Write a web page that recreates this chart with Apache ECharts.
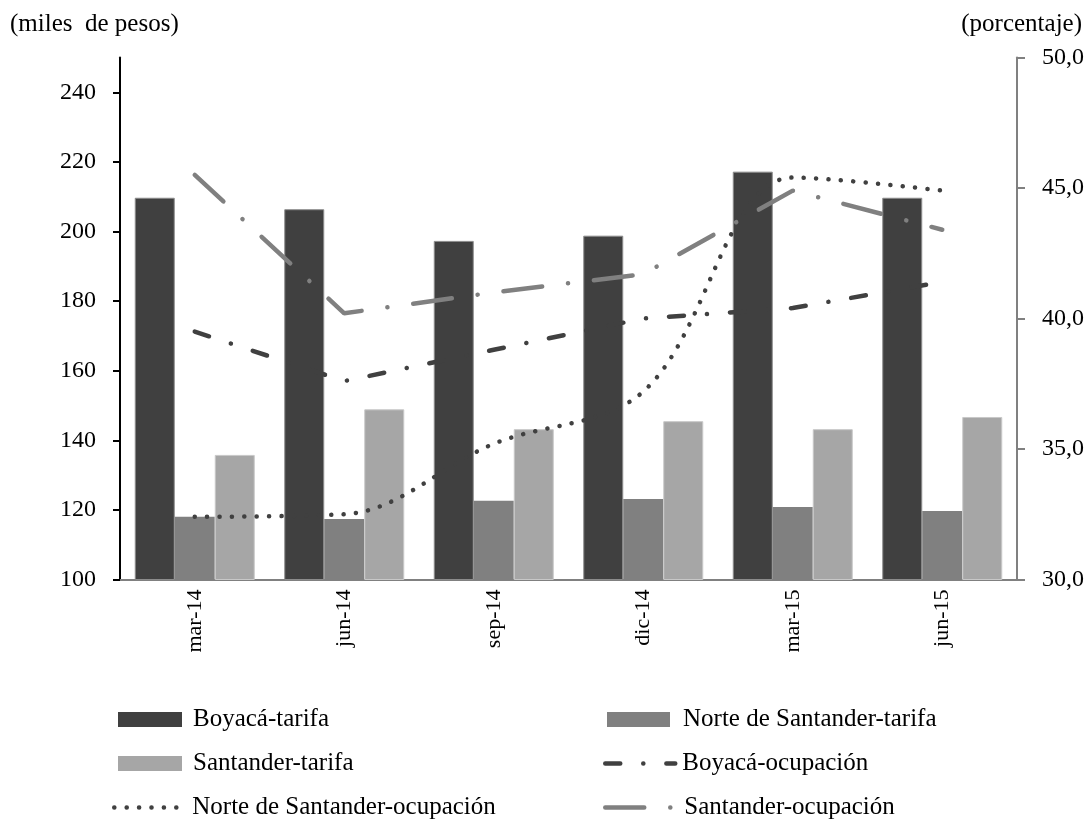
<!DOCTYPE html>
<html>
<head>
<meta charset="utf-8">
<script src="https://cdn.jsdelivr.net/npm/echarts@6/dist/echarts.min.js"></script>
<style>
html,body{margin:0;padding:0;background:#fff;}
#chart{width:1091px;height:823px;}
</style>
</head>
<body>
<div id="chart"></div>
<script>
const categories = ['mar-14', 'jun-14', 'sep-14', 'dic-14', 'mar-15', 'jun-15'];
const boyacaTarifa = [209.7, 206.4, 197.3, 198.8, 217.2, 209.7];
const norteTarifa = [118.0, 117.4, 122.6, 123.1, 120.8, 119.7];
const santanderTarifa = [135.8, 148.9, 143.2, 145.5, 143.2, 146.7];
const boyacaOcupacion = [39.5, 37.6, 38.8, 40.0, 40.4, 41.4];
const norteOcupacion = [32.4, 32.5, 35.2, 37.2, 45.4, 44.9];
const santanderOcupacion = [45.5, 40.2, 41.0, 41.7, 44.9, 43.4];
const leftTicks = [100, 120, 140, 160, 180, 200, 220, 240];
const rightTicks = [30, 35, 40, 45, 50];

const FONT = '"Liberation Serif", "Times New Roman", serif';
const C_DARK = '#404040', C_MID = '#808080', C_LIGHT = '#a6a6a6';

const dashBoyaca = [15, 23, 0.1, 23];
const dashSantander = [39, 26, 0.1, 26];
const dashNorte = [0.1, 12.3];

const chart = echarts.init(document.getElementById('chart'), null, {renderer: 'canvas'});

function legendAt(name, left, top, lineStyle, itemWidth, padLeft) {
  const l = {
    data: [name],
    left: left,
    top: top,
    padding: 0,
    itemWidth: itemWidth || 64,
    itemHeight: 15,
    selectedMode: false,
    textStyle: {fontFamily: FONT, fontSize: 25, color: '#000', padding: [0, 0, 0, padLeft == null ? 6 : padLeft]}
  };
  if (lineStyle) {
    l.lineStyle = lineStyle;
    l.itemStyle = {color: 'rgba(0,0,0,0)', borderWidth: 0, opacity: 0};
  } else {
    l.icon = 'rect';
    l.itemStyle = {borderWidth: 0};
  }
  return l;
}

const option = {
  animation: false,
  backgroundColor: '#fff',
  grid: {left: 120, right: 74, top: 57.5, bottom: 243.5, containLabel: false},
  graphic: [
    {type: 'text', left: 10, top: 12, style: {text: '(miles  de pesos)', font: '25px ' + FONT, fill: '#000'}},
    {type: 'text', right: 9, top: 12, style: {text: '(porcentaje)', font: '25px ' + FONT, fill: '#000'}}
  ],
  legend: [
    legendAt('Boyacá-tarifa', 118, 707),
    legendAt('Norte de Santander-tarifa', 607, 707, null, 63, 8),
    legendAt('Santander-tarifa', 118, 751),
    legendAt('Boyacá-ocupación', 603, 751, {width: 4.5, type: dashBoyaca, cap: 'round', color: C_DARK}, 70, 2),
    legendAt('Norte de Santander-ocupación', 112, 795, {width: 4.5, type: dashNorte, cap: 'round', color: C_DARK}, 68, 5),
    legendAt('Santander-ocupación', 603, 795, {width: 4.5, type: dashSantander, cap: 'round', color: C_MID}, 70, 4)
  ],
  xAxis: {
    type: 'category',
    data: categories,
    boundaryGap: true,
    axisLine: {lineStyle: {color: '#808080', width: 2}},
    axisTick: {show: false},
    axisLabel: {rotate: 90, margin: 10, fontFamily: FONT, fontSize: 22, color: '#000'},
    splitLine: {show: false}
  },
  yAxis: [
    {
      type: 'value', min: 100, max: 250, interval: 10,
      axisLine: {show: true, lineStyle: {color: '#000', width: 2}},
      axisTick: {show: true, length: 7, lineStyle: {color: '#000', width: 2}, customValues: leftTicks},
      axisLabel: {margin: 24, fontFamily: FONT, fontSize: 24, color: '#000', customValues: leftTicks},
      splitLine: {show: false}
    },
    {
      type: 'value', min: 30, max: 50, interval: 5, position: 'right',
      axisLine: {show: true, lineStyle: {color: '#808080', width: 2}},
      axisTick: {show: true, length: 8, lineStyle: {color: '#808080', width: 2}, customValues: rightTicks},
      axisLabel: {margin: 25, fontFamily: FONT, fontSize: 24, color: '#000', customValues: rightTicks,
        formatter: function (v) { return v.toFixed(1).replace('.', ','); }},
      splitLine: {show: false}
    }
  ],
  series: [
    {name: 'Boyacá-tarifa', type: 'bar', data: boyacaTarifa, barWidth: 40, barGap: '0%',
      itemStyle: {color: C_DARK, borderColor: '#8c8c8c', borderWidth: 1}},
    {name: 'Norte de Santander-tarifa', type: 'bar', data: norteTarifa, barWidth: 40, barGap: '0%',
      itemStyle: {color: C_MID}},
    {name: 'Santander-tarifa', type: 'bar', data: santanderTarifa, barWidth: 40, barGap: '0%',
      itemStyle: {color: C_LIGHT, borderColor: '#c8c8c8', borderWidth: 1}},
    {name: 'Boyacá-ocupación', type: 'line', yAxisIndex: 1, data: boyacaOcupacion, symbol: 'none',
      lineStyle: {color: C_DARK, width: 4.5, type: dashBoyaca, cap: 'round'}, itemStyle: {color: C_DARK}},
    {name: 'Norte de Santander-ocupación', type: 'line', yAxisIndex: 1, data: norteOcupacion, symbol: 'none', smooth: 0.35,
      lineStyle: {color: C_DARK, width: 4.5, type: dashNorte, cap: 'round'}, itemStyle: {color: C_DARK}},
    {name: 'Santander-ocupación', type: 'line', yAxisIndex: 1, data: santanderOcupacion, symbol: 'none',
      lineStyle: {color: C_MID, width: 4.5, type: dashSantander, cap: 'round'}, itemStyle: {color: C_MID}}
  ]
};
chart.setOption(option);
</script>
</body>
</html>
